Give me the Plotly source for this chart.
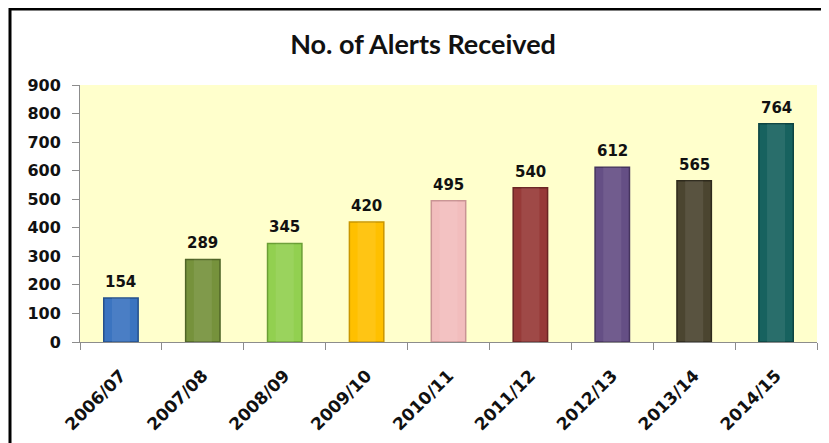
import plotly.graph_objects as go

years = ["2006/07", "2007/08", "2008/09", "2009/10", "2010/11", "2011/12", "2012/13", "2013/14", "2014/15"]
alerts = [154, 289, 345, 420, 495, 540, 612, 565, 764]
bar_colors = ["#3B74C0", "#76923C", "#92D050", "#FFC000", "#F2BDBD", "#973A38", "#654F85", "#4B4530", "#17625F"]
edge_colors = ["#25508C", "#4F6427", "#6A9E35", "#C99600", "#C99494", "#6B2524", "#45345E", "#2E2A1C", "#0D4442"]
y_ticks = [0, 100, 200, 300, 400, 500, 600, 700, 800, 900]

fig = go.Figure()
fig.add_trace(go.Bar(
    x=years, y=alerts,
    marker=dict(color=bar_colors, line=dict(color=edge_colors, width=1.5)),
    width=0.42,
    hoverinfo="x+y",
))
# soft highlight band for a rounded look
fig.add_trace(go.Bar(
    x=years, y=alerts,
    marker=dict(color="rgba(255,255,255,0.08)", line=dict(width=0)),
    width=0.22,
    hoverinfo="skip",
))

for yr, v in zip(years, alerts):
    fig.add_annotation(x=yr, y=v, text=str(v), showarrow=False, yanchor="bottom", yshift=5,
                       font=dict(family="DejaVu Sans", size=15, color="#111111", weight="bold"))

L, T, PW, PH = 72, 77, 737, 257
W, H = 821, 435

fig.update_layout(
    width=W, height=H,
    margin=dict(l=L, r=W - L - PW, t=T, b=H - T - PH),
    barmode="overlay",
    paper_bgcolor="white", plot_bgcolor="#FFFFCC",
    showlegend=False,
    title=dict(text="<b>No. of Alerts Received</b>", x=415 / W, xanchor="center", y=1 - 37 / H, yanchor="middle",
               font=dict(family="Lato", size=27, color="#111111")),
    xaxis=dict(showline=True, linecolor="#8C8C8C", linewidth=1, ticks="outside", ticklen=7, tickcolor="#8C8C8C",
               tickson="boundaries", tickangle=-45, showgrid=False, ticklabelstandoff=16, automargin=False,
               tickfont=dict(family="DejaVu Sans", size=17, color="#111111", weight="bold")),
    yaxis=dict(range=[0, 900], tickvals=y_ticks, showline=True, linecolor="#8C8C8C", linewidth=1,
               ticks="outside", ticklen=7, tickcolor="#8C8C8C", showgrid=False, zeroline=False,
               ticklabelstandoff=8, automargin=False,
               tickfont=dict(family="DejaVu Sans", size=16, color="#111111", weight="bold")),
    shapes=[dict(type="rect", xref="paper", yref="paper",
                 x0=(2 - L) / PW, x1=(W + 40 - L) / PW, y0=-0.6, y1=1 + (T - 1) / PH,
                 line=dict(color="black", width=3), fillcolor="rgba(0,0,0,0)", layer="above")],
)

fig.write_html("out.html")
